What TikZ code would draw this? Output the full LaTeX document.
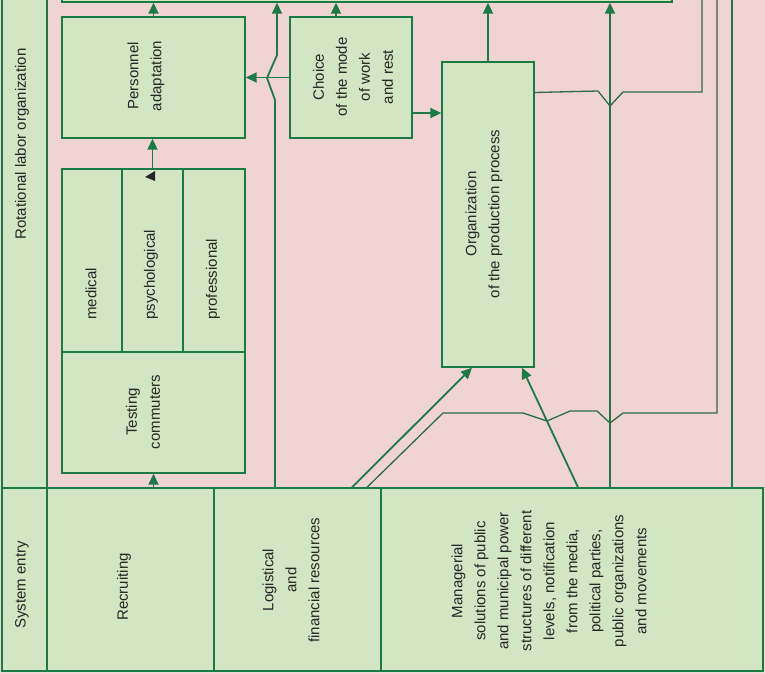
\documentclass[tikz,border=0pt]{standalone}
\usepackage{fontspec}
\setmainfont{Liberation Sans}
\usetikzlibrary{fit,calc,arrows.meta}
\definecolor{bgpink}{HTML}{F0D4D4}
\definecolor{boxgreen}{HTML}{D3E6C4}
\definecolor{linegreen}{HTML}{1C7A46}
\definecolor{thingreen}{HTML}{2D6B48}
\definecolor{txtgray}{HTML}{262626}
\begin{document}
\begin{tikzpicture}[x=1pt,y=-1pt,
  box/.style={draw=linegreen, fill=boxgreen, line width=1.4pt, inner sep=0pt},
  txt/.style={rotate=90, align=center, text=txtgray, font=\fontsize{15}{23}\selectfont, inner sep=0pt},
  arr/.style={draw=linegreen, line width=1.8pt, -{Triangle[length=11pt,width=10pt]}},
  conn/.style={draw=linegreen, line width=1.8pt},
  jog/.style={draw=thingreen, line width=1.3pt}]
\useasboundingbox (0,0) rectangle (765,674);
\fill[bgpink] (0,0) rectangle (765,674);
% strips and rows
\node[box, fit={(2,-10) (47,488)}] (rot) {};
\node[box, fit={(2,488) (47,671)}] (sysentry) {};
\node[box, fit={(47,488) (214,671)}] (recr) {};
\node[box, fit={(214,488) (381,671)}] (logi) {};
\node[box, fit={(381,488) (763,671)}] (mana) {};
% top bar
\node[box, fit={(62,-10) (672,2)}] (topbar) {};
% boxes
\node[box, fit={(62,17) (245,138)}] (pers) {};
\node[box, fit={(290,17) (412,138)}] (choice) {};
\node[box, fit={(442,62) (534,367)}] (org) {};
\node[box, fit={(62,169) (122,352)}] (med) {};
\node[box, fit={(122,169) (183,352)}] (psy) {};
\node[box, fit={(183,169) (245,352)}] (prof) {};
\node[box, fit={(62,352) (245,473)}] (test) {};
% connectors
\draw[arr] (pers.north) -- (pers.north |- topbar.south);
\draw[arr] ($(choice.north)+(-15,0)$) -- ($(choice.north |- topbar.south)+(-15,0)$);
\draw[arr] (org.north) -- (org.north |- topbar.south);
\draw[arr] ($(logi.north)+(-22.5,0)$) -- (275,100) -- (267,78) -- (277,55) -- ($(topbar.south)+(-90,0)$);
\draw[arr] (choice.west) -- (pers.east);
\draw[arr] ($(choice.east)+(0,35.5)$) -- ($(org.west |- choice.east)+(0,35.5)$);
\draw[arr] (test.south |- recr.north) -- (test.south);
\draw[arr] (psy.north) -- (psy.north |- pers.south);
\fill[black!85] (155,171) -- (145,177) -- (155,181) -- cycle;
\draw[arr] ($(logi.north)+(54.5,0)$) -- ($(org.south)+(-16,0)$);
\draw[jog] ($(logi.north)+(69.5,0)$) -- (443,413) -- (523,413) -- (547,421) -- (570,411) -- (597,411) -- (610,423) -- (623,413) -- (717,413) -- (717,-5);
\draw[arr] ($(mana.north)+(6,0)$) -- ($(org.south)+(34,0)$);
\draw[arr] ($(mana.north)+(38,0)$) -- ($(mana.north |- topbar.south)+(38,0)$);
\draw[conn] ($(mana.north)+(160,0)$) -- ($(mana.north)+(160,-495)$);
\draw[jog] ($(org.east)+(0,-122)$) -- (598,91) -- (610,106) -- (623,92) -- (702,92) -- (702,-5);
% texts
\node[txt] (trot) at (22,144) {Rotational labor organization};
\node[txt] (tsys) at (22,585) {System entry};
\node[txt] (trecr) at (124,587) {Recruiting};
\node[txt] (tlogi) at (291,580) {Logistical\\and\\financial resources};
\node[txt] (tmana) at (549,581) {Managerial\\solutions of public\\and municipal power\\structures of different\\levels, notification\\from the media,\\political parties,\\public organizations\\and movements};
\node[txt] (tpers) at (146,76) {Personnel\\adaptation};
\node[txt] (tchoice) at (353,77) {Choice\\of the mode\\of work\\and rest};
\node[txt] (torg) at (484,214) {Organization\\of the production process};
\node[txt] (ttest) at (143,412) {Testing\\commuters};
\node[txt, anchor=west] (tmed) at (91,320) {medical};
\node[txt, anchor=west] (tpsy) at (151,320) {psychological};
\node[txt, anchor=west] (tprof) at (213,320) {professional};
\end{tikzpicture}
\end{document}
